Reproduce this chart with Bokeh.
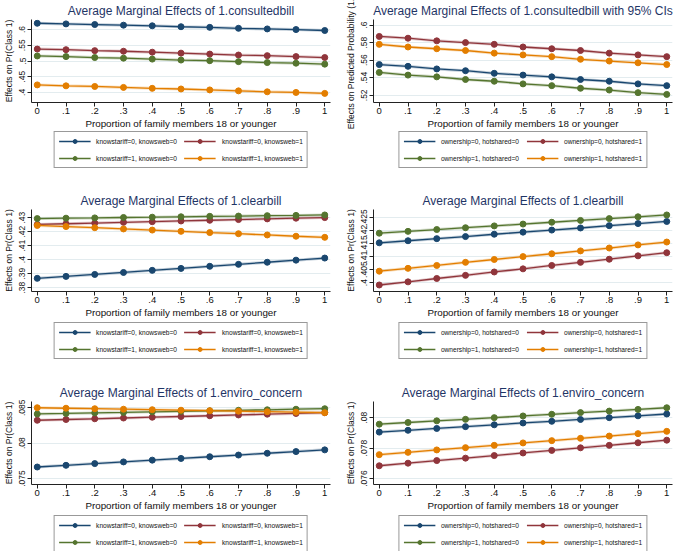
from bokeh.plotting import figure
from bokeh.models import Range1d, FixedTicker, Legend, LegendItem
from bokeh.layouts import gridplot
from bokeh.embed import file_html
from bokeh.resources import INLINE

# ---------------- data ----------------
x_vals = [0, 0.1, 0.2, 0.3, 0.4, 0.5, 0.6, 0.7, 0.8, 0.9, 1.0]
x_tick_labels = ["0", ".1", ".2", ".3", ".4", ".5", ".6", ".7", ".8", ".9", "1"]
x_title = "Proportion of family members 18 or younger"

knows_labels = ["knowstariff=0, knowsweb=0", "knowstariff=0, knowsweb=1",
                "knowstariff=1, knowsweb=0", "knowstariff=1, knowsweb=1"]
own_labels = ["ownership=0, hotshared=0", "ownership=0, hotshared=1",
              "ownership=1, hotshared=0", "ownership=1, hotshared=1"]

# Panel 1: consultedbill (knowstariff / knowsweb)
p1_k00 = [.620, .618, .616, .614, .612, .609, .607, .604, .602, .600, .597]
p1_k01 = [.538, .536, .533, .531, .528, .525, .522, .519, .517, .514, .511]
p1_k10 = [.516, .514, .511, .509, .506, .503, .501, .498, .495, .493, .490]
p1_k11 = [.424, .421, .419, .416, .413, .411, .408, .405, .402, .400, .397]
p1_yticks = [.4, .45, .5, .55, .6]
p1_ylabels = [".4", ".45", ".5", ".55", ".6"]

# Panel 2: consultedbill with 95% CIs (ownership / hotshared)
p2_o00 = [.555, .553, .550, .548, .545, .543, .541, .538, .536, .533, .531]
p2_o01 = [.587, .585, .582, .580, .578, .575, .573, .571, .568, .566, .564]
p2_o10 = [.546, .543, .541, .538, .536, .533, .531, .528, .526, .523, .521]
p2_o11 = [.578, .575, .573, .571, .568, .566, .564, .561, .559, .557, .555]
p2_yticks = [.52, .54, .56, .58, .6]
p2_ylabels = [".52", ".54", ".56", ".58", ".6"]

# Panel 3: clearbill (knowstariff / knowsweb)
p3_k00 = [.3866, .3880, .3894, .3908, .3923, .3937, .3952, .3966, .3981, .3996, .4011]
p3_k01 = [.4251, .4256, .4261, .4266, .4271, .4276, .4281, .4286, .4291, .4296, .4300]
p3_k10 = [.4293, .4296, .4298, .4301, .4303, .4306, .4309, .4311, .4314, .4316, .4319]
p3_k11 = [.4244, .4236, .4228, .4219, .4211, .4202, .4193, .4185, .4176, .4167, .4159]
p3_yticks = [.38, .39, .40, .41, .42, .43]
p3_ylabels = [".38", ".39", ".4", ".41", ".42", ".43"]

# Panel 4: clearbill (ownership / hotshared)
p4_o00 = [.4153, .4161, .4169, .4177, .4186, .4194, .4202, .4210, .4219, .4227, .4235]
p4_o01 = [.3991, .4003, .4016, .4028, .4041, .4053, .4066, .4078, .4090, .4103, .4115]
p4_o10 = [.4190, .4197, .4204, .4211, .4218, .4225, .4232, .4239, .4246, .4253, .4260]
p4_o11 = [.4044, .4055, .4066, .4078, .4089, .4100, .4111, .4122, .4133, .4145, .4156]
p4_yticks = [.4, .405, .41, .415, .42, .425]
p4_ylabels = [".4", ".405", ".41", ".415", ".42", ".425"]

# Panel 5: enviro_concern (knowstariff / knowsweb)
p5_k00 = [.07663, .07687, .07711, .07735, .07760, .07784, .07808, .07832, .07857, .07881, .07905]
p5_k01 = [.08323, .08334, .08344, .08355, .08366, .08376, .08387, .08398, .08409, .08419, .08430]
p5_k10 = [.08412, .08419, .08427, .08434, .08442, .08449, .08456, .08464, .08471, .08479, .08486]
p5_k11 = [.08500, .08493, .08486, .08479, .08472, .08465, .08458, .08451, .08444, .08437, .08430]
p5_yticks = [.075, .08, .085]
p5_ylabels = [".075", ".08", ".085"]

# Panel 6: enviro_concern (ownership / hotshared)
p6_o00 = [.07905, .07917, .07929, .07941, .07953, .07965, .07976, .07988, .08000, .08012, .08024]
p6_o01 = [.07684, .07701, .07718, .07734, .07751, .07768, .07785, .07802, .07818, .07835, .07852]
p6_o10 = [.07957, .07968, .07979, .07989, .08000, .08011, .08022, .08033, .08043, .08054, .08065]
p6_o11 = [.07757, .07772, .07788, .07803, .07818, .07834, .07849, .07864, .07879, .07895, .07910]
p6_yticks = [.076, .078, .08]
p6_ylabels = [".076", ".078", ".08"]

# ---------------- style ----------------
COLORS = ["#1a476f", "#90353b", "#55752f", "#e37e00"]
FONT = "Liberation Sans"
TITLE_COLOR = "#1f3566"
GRID = "#e3ecef"
AXIS_BOTTOM = 28


def panel(title, ylabel, series, yticks, ylabels, yr, width, left, right, top, frame_h):
    height = top + frame_h + AXIS_BOTTOM
    p = figure(width=width, height=height, output_backend="svg", toolbar_location=None,
               x_range=Range1d(-0.02, 1.02), y_range=Range1d(*yr),
               min_border_left=left, min_border_right=right,
               min_border_top=top, min_border_bottom=AXIS_BOTTOM,
               title=title)
    p.outline_line_color = None
    p.background_fill_color = "white"
    p.border_fill_color = "white"
    p.title.align = "center"
    p.title.text_font = FONT
    p.title.text_font_size = "12px"
    p.title.text_font_style = "normal"
    p.title.text_color = TITLE_COLOR
    p.title.standoff = 3

    p.xgrid.visible = False
    p.ygrid.grid_line_color = GRID
    p.ygrid.grid_line_width = 1
    p.ygrid.ticker = FixedTicker(ticks=yticks)

    xa = p.xaxis[0]
    xa.ticker = FixedTicker(ticks=x_vals)
    xa.major_label_overrides = {v: s for v, s in zip(x_vals, x_tick_labels)}
    xa.axis_label = x_title
    ya = p.yaxis[0]
    ya.ticker = FixedTicker(ticks=yticks)
    ya.major_label_overrides = {v: s for v, s in zip(yticks, ylabels)}
    ya.axis_label = ylabel
    ya.major_label_orientation = "vertical"
    for ax in (xa, ya):
        ax.axis_line_color = "#222222"
        ax.major_tick_line_color = "#222222"
        ax.minor_tick_line_color = None
        ax.major_tick_out = 4
        ax.major_tick_in = 0
        ax.major_label_text_font = FONT
        ax.axis_label_text_font = FONT
        ax.axis_label_text_font_style = "normal"
        ax.major_label_text_color = "#111111"
        ax.axis_label_text_color = "#111111"
    xa.major_label_text_font_size = "9.5px"
    xa.axis_label_text_font_size = "9.8px"
    xa.major_label_standoff = 1
    xa.axis_label_standoff = 1
    ya.major_label_text_font_size = "8.5px"
    ya.axis_label_text_font_size = "8.5px"
    ya.major_label_standoff = 2
    ya.axis_label_standoff = 3

    for ys, col in zip(series, COLORS):
        p.line(x_vals, ys, line_color=col, line_width=3, line_alpha=0.25)
        p.line(x_vals, ys, line_color=col, line_width=1.3)
        p.scatter(x_vals, ys, marker="circle", size=6, fill_color=col, line_color=col)
    return p


def legend_fig(labels, series, width, left, right, height, leg_top):
    # legend strip: same series drawn far outside the visible range, only the legend shows
    q = figure(width=width, height=height, output_backend="svg", toolbar_location=None,
               x_range=Range1d(0, 1), y_range=Range1d(50, 51),
               x_axis_location=None, y_axis_location=None,
               min_border_left=left, min_border_right=right,
               min_border_top=0, min_border_bottom=0)
    q.outline_line_color = None
    q.grid.visible = False
    q.border_fill_color = "white"
    q.background_fill_color = "white"
    items = []
    for lab, ys, col in zip(labels, series, COLORS):
        r1 = q.line(x_vals, ys, line_color=col, line_width=1.3)
        r2 = q.scatter(x_vals, ys, marker="circle", size=6, fill_color=col, line_color=col)
        items.append(LegendItem(label=lab, renderers=[r1, r2]))
    # column-major fill -> reorder so rows read (0,1) / (2,3)
    items = [items[0], items[2], items[1], items[3]]
    leg = Legend(items=items, ncols=2, location="top_center")
    leg.border_line_color = "#333333"
    leg.border_line_width = 1
    leg.background_fill_color = "white"
    leg.label_text_font = FONT
    leg.label_text_font_size = "6.6px"
    leg.label_text_color = "#111111"
    leg.glyph_width = 32
    leg.glyph_height = 10
    leg.label_height = 10
    leg.label_width = 60
    leg.label_standoff = 6
    leg.spacing = 7
    leg.padding = 4
    leg.margin = leg_top
    q.add_layout(leg, "center")
    return q


W1, W2 = 340, 344
L1, R1, L2, R2 = 31, 10, 33, 12
ROW_H = [184, 184, 183]
rows_cfg = [  # top, frame height, legend top offset in legend strip
    (18, 85, 0),
    (25, 83, 2),
    (33, 84, 2),
]


def strip_h(i):
    top, fh, _ = rows_cfg[i]
    return ROW_H[i] - (top + fh + AXIS_BOTTOM)


all_series = [
    [p1_k00, p1_k01, p1_k10, p1_k11], [p2_o00, p2_o01, p2_o10, p2_o11],
    [p3_k00, p3_k01, p3_k10, p3_k11], [p4_o00, p4_o01, p4_o10, p4_o11],
    [p5_k00, p5_k01, p5_k10, p5_k11], [p6_o00, p6_o01, p6_o10, p6_o11],
]

p1 = panel("Average Marginal Effects of 1.consultedbill", "Effects on Pr(Class 1)",
           all_series[0], p1_yticks, p1_ylabels,
           (0.368, 0.632), W1, L1, R1, *rows_cfg[0][:2])
p2 = panel("Average Marginal Effects of 1.consultedbill with 95% CIs",
           "Effects on Predicted Probability (1.C",
           all_series[1], p2_yticks, p2_ylabels,
           (0.5118, 0.6063), W2, L2, R2, *rows_cfg[0][:2])
p3 = panel("Average Marginal Effects of 1.clearbill", "Effects on Pr(Class 1)",
           all_series[2], p3_yticks, p3_ylabels,
           (0.3772, 0.4358), W1, L1, R1, *rows_cfg[1][:2])
p4 = panel("Average Marginal Effects of 1.clearbill", "Effects on Pr(Class 1)",
           all_series[3], p4_yticks, p4_ylabels,
           (0.3966, 0.4281), W2, L2, R2, *rows_cfg[1][:2])
p5 = panel("Average Marginal Effects of 1.enviro_concern", "Effects on Pr(Class 1)",
           all_series[4], p5_yticks, p5_ylabels,
           (0.07416, 0.08588), W1, L1, R1, *rows_cfg[2][:2])
p6 = panel("Average Marginal Effects of 1.enviro_concern", "Effects on Pr(Class 1)",
           all_series[5], p6_yticks, p6_ylabels,
           (0.07561, 0.08106), W2, L2, R2, *rows_cfg[2][:2])

legs = []
for i in range(3):
    h = strip_h(i)
    t = rows_cfg[i][2]
    legs.append([legend_fig(knows_labels, all_series[2 * i], W1, L1, R1, h, t),
                 legend_fig(own_labels, all_series[2 * i + 1], W2, L2, R2, h, t)])

grid = gridplot([[p1, p2], legs[0], [p3, p4], legs[1], [p5, p6], legs[2]],
                toolbar_location=None)

open("out.html", "w").write(file_html(grid, INLINE))
